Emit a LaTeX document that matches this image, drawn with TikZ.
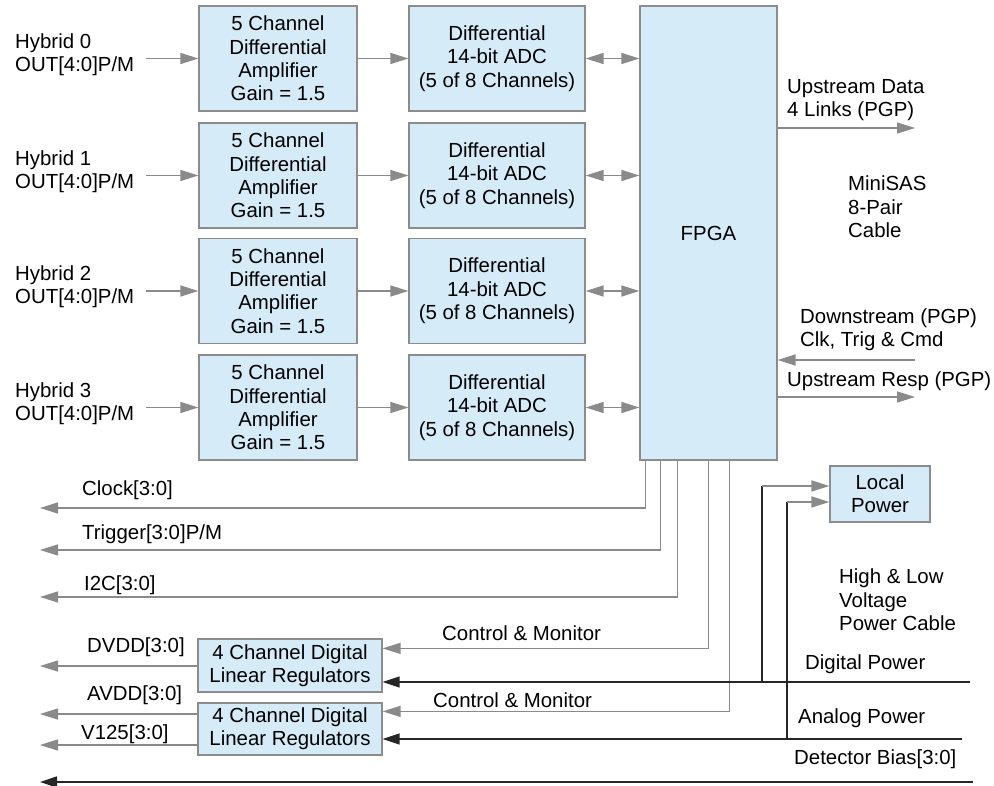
\documentclass[tikz,border=0pt]{standalone}
\usepackage{fontspec}
\setmainfont{Liberation Sans}
\usetikzlibrary{arrows.meta,calc}
\definecolor{boxfill}{RGB}{214,235,248}
\definecolor{boxline}{RGB}{140,140,140}
\definecolor{lgray}{RGB}{138,138,138}
\begin{document}
\begin{tikzpicture}[x=1pt,y=-1pt,
  font=\fontsize{20.4}{23.3}\selectfont,
  box/.style={draw=boxline, fill=boxfill, line width=1.2pt, align=center, inner sep=0pt},
  lbl/.style={anchor=west, align=left, inner sep=0pt},
  garrow/.style={draw=lgray, line width=1.4pt, -{Triangle[length=18pt,width=11pt]}},
  gdbl/.style={draw=lgray, line width=1.4pt, {Triangle[length=18pt,width=11pt]}-{Triangle[length=18pt,width=11pt]}},
  barrow/.style={draw=black!85, line width=1.4pt, -{Triangle[length=17pt,width=11pt]}},
  gline/.style={draw=lgray, line width=1.4pt},
  bline/.style={draw=black!85, line width=1.4pt}]
\useasboundingbox (0,0) rectangle (994,786);
\fill[white] (0,0) rectangle (994,786);

% FPGA
\node[box, minimum width=137pt, minimum height=454pt] (fpga) at (708.5,233) {FPGA};

% rows
\foreach \i/\y in {0/58.5,1/175.5,2/291,3/407.5}{
  \node[box, minimum width=158pt, minimum height=105pt] (amp\i) at (278,\y)
    {5 Channel\\Differential\\Amplifier\\Gain = 1.5};
  \node[box, minimum width=176pt, minimum height=105pt] (adc\i) at (497,\y)
    {Differential\\14-bit ADC\\(5 of 8 Channels)};
  \node[lbl] (hyb\i) at (15,\y-4) {Hybrid \i\\OUT[4:0]P/M};
  \coordinate (hin\i) at (146,\y);
  \draw[garrow] (hin\i) -- (amp\i.west);
  \draw[garrow] (amp\i.east) -- (adc\i.west);
  \draw[gdbl] (adc\i.east) -- (adc\i.east -| fpga.west);
}

% right side of FPGA
\coordinate (ud) at (915,128);
\coordinate (ds) at (915,360);
\coordinate (ur) at (915,397);
\draw[garrow] (ud -| fpga.east) -- (ud);
\draw[garrow] (ds) -- (ds -| fpga.east);
\draw[garrow] (ur -| fpga.east) -- (ur);
\node[lbl] (udl) at (787,100) {Upstream Data\\4 Links (PGP)};
\node[lbl] (msas) at (848,207) {MiniSAS\\8-Pair\\Cable};
\node[lbl] (dsl) at (800,330) {Downstream (PGP)\\Clk, Trig \& Cmd};
\node[lbl] (url) at (787,381) {Upstream Resp (PGP)};

% regulators and local power
\node[box, minimum width=184pt, minimum height=53pt] (reg1) at (290,665.5)
  {4 Channel Digital\\Linear Regulators};
\node[box, minimum width=184pt, minimum height=52pt] (reg2) at (290,729)
  {4 Channel Digital\\Linear Regulators};
\node[box, minimum width=100pt, minimum height=56pt] (lp) at (880,494) {Local\\Power};

% FPGA bottom outputs
\coordinate (ck) at (40,508);
\coordinate (tr) at (40,550);
\coordinate (ic) at (40,597);
\draw[garrow] ($(fpga.south west)+(6,0)$) |- (ck);
\draw[garrow] ($(fpga.south west)+(21,0)$) |- (tr);
\draw[garrow] ($(fpga.south west)+(38,0)$) |- (ic);
\draw[garrow] ($(fpga.south west)+(69,0)$) |- ($(reg1.north east)+(0,10)$);
\draw[garrow] ($(fpga.south west)+(90,0)$) |- ($(reg2.north east)+(0,9)$);
\node[lbl] (ckl) at (82,490) {Clock[3:0]};
\node[lbl] (trl) at (82,534) {Trigger[3:0]P/M};
\node[lbl] (icl) at (84,585) {I2C[3:0]};
\node[lbl] (cm1) at (442,633) {Control \& Monitor};
\node[lbl] (cm2) at (433,700) {Control \& Monitor};

% power cable
\coordinate (dp) at (970,682);
\coordinate (ap) at (962,739);
\coordinate (db) at (973,782);
\coordinate (dbend) at (40,782);
\draw[barrow] (dp) -- (dp -| reg1.east);
\draw[barrow] (ap) -- (ap -| reg2.east);
\draw[barrow] (db) -- (dbend);
\coordinate (dtap) at (762,682);
\coordinate (atap) at (787,739);
\coordinate (dlp) at (762,486);
\coordinate (alp) at (787,502);
\draw[bline] (dtap) -- (dlp);
\draw[bline] (atap) -- (alp);
\draw[garrow] (dlp) -- (dlp -| lp.west);
\draw[garrow] (alp) -- (alp -| lp.west);
\node[lbl] (hlv) at (839,600) {High \& Low\\Voltage\\Power Cable};
\node[lbl] (dpl) at (805,664) {Digital Power};
\node[lbl] (apl) at (798,718) {Analog Power};
\node[lbl] (dbl) at (794,759) {Detector Bias[3:0]};

% regulator outputs
\coordinate (dv) at (40,666);
\coordinate (av) at (40,714);
\coordinate (vv) at (40,745);
\draw[garrow] (dv -| reg1.west) -- (dv);
\draw[garrow] (av -| reg2.west) -- (av);
\draw[garrow] (vv -| reg2.west) -- (vv);
\node[lbl] (dvl) at (87,647) {DVDD[3:0]};
\node[lbl] (avl) at (87,695) {AVDD[3:0]};
\node[lbl] (vvl) at (81,734) {V125[3:0]};
\end{tikzpicture}
\end{document}
